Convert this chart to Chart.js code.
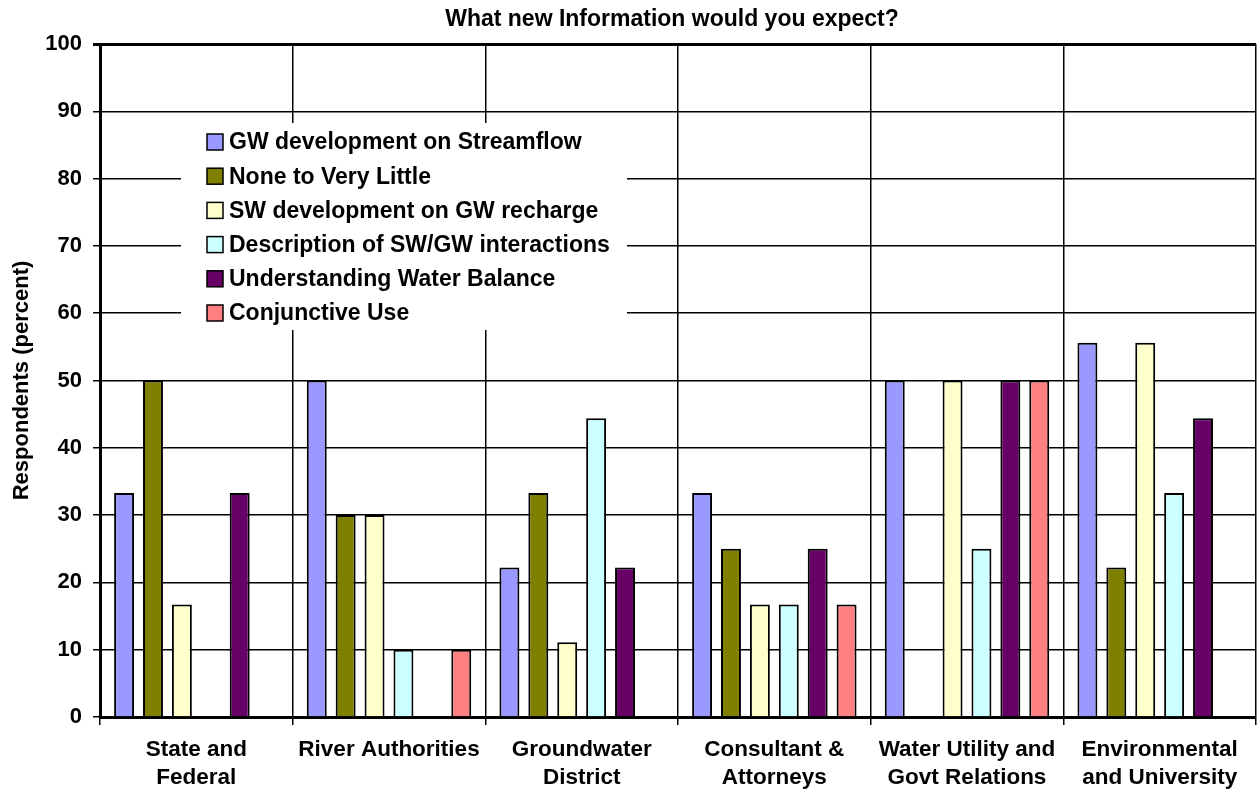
<!DOCTYPE html>
<html>
<head>
<meta charset="utf-8">
<title>What new Information would you expect?</title>
<script src="https://cdn.jsdelivr.net/npm/chart.js@4/dist/chart.umd.min.js"></script>
<style>
    html, body { margin: 0; padding: 0; background: #fff; overflow: hidden; }
    #chart { display: block; }
</style>
</head>
<body>
<canvas id="chart" width="1257" height="795"></canvas>
<script>
// ========================================
// DADOS
// ========================================

const chartTitle = 'What new Information would you expect?';

const categories = [
    ['State and', 'Federal'],
    ['River Authorities'],
    ['Groundwater', 'District'],
    ['Consultant &', 'Attorneys'],
    ['Water Utility and', 'Govt Relations'],
    ['Environmental', 'and University']
];

const seriesNames = [
    'GW development on Streamflow',
    'None to Very Little',
    'SW development on GW recharge',
    'Description of SW/GW interactions',
    'Understanding Water Balance',
    'Conjunctive Use'
];

const gwStreamflow   = [33.3, 50, 22.2, 33.3, 50, 55.6];
const noneLittle     = [50, 30, 33.3, 25, 0, 22.2];
const swRecharge     = [16.7, 30, 11.1, 16.7, 50, 55.6];
const swGwDesc       = [0, 10, 44.4, 16.7, 25, 33.3];
const waterBalance   = [33.3, 0, 22.2, 25, 50, 44.4];
const conjunctiveUse = [0, 10, 0, 16.7, 50, 0];

const yTicks = [0, 10, 20, 30, 40, 50, 60, 70, 80, 90, 100];

const seriesColors = ['#9999ff', '#808000', '#ffffcc', '#ccffff', '#660066', '#ff8080'];

// ========================================
// CONFIG
// ========================================

const FONT = '"Liberation Sans", Arial, sans-serif';
Chart.defaults.font.family = FONT;
Chart.defaults.color = '#000';

const seriesValues = [gwStreamflow, noneLittle, swRecharge, swGwDesc, waterBalance, conjunctiveUse];

const datasets = seriesNames.map((name, i) => ({
    label: name,
    data: seriesValues[i],
    backgroundColor: seriesColors[i],
    borderColor: '#000',
    borderWidth: 2,
    categoryPercentage: 0.9,
    barPercentage: 0.69
}));

// Titulo no topo
const titlePlugin = {
    id: 'topTitle',
    afterDraw(chart) {
        const ctx = chart.ctx;
        ctx.save();
        ctx.font = 'bold 23px ' + FONT;
        ctx.fillStyle = '#000';
        ctx.textAlign = 'center';
        ctx.textBaseline = 'middle';
        ctx.fillText(chartTitle, 672, 20);
        ctx.restore();
    }
};

// Legenda dentro da area do grafico, com fundo branco
const boxLegendPlugin = {
    id: 'boxLegend',
    afterDatasetsDraw(chart) {
        const ctx = chart.ctx;
        const box = { x: 181, y: 123, w: 446, h: 207 };
        ctx.save();
        ctx.fillStyle = '#fff';
        ctx.fillRect(box.x, box.y, box.w, box.h);
        ctx.font = 'bold 23px ' + FONT;
        ctx.textBaseline = 'middle';
        chart.data.datasets.forEach((ds, i) => {
            const cy = 142 + i * 34.2;
            ctx.fillStyle = ds.backgroundColor;
            ctx.fillRect(207, cy - 8, 16, 16);
            ctx.strokeStyle = '#000';
            ctx.lineWidth = 1.5;
            ctx.strokeRect(207, cy - 8, 16, 16);
            ctx.fillStyle = '#000';
            ctx.fillText(ds.label, 229, cy + 1);
        });
        ctx.restore();
    }
};

const chart = new Chart(document.getElementById('chart'), {
    type: 'bar',
    data: {
        labels: categories,
        datasets: datasets
    },
    options: {
        responsive: false,
        animation: false,
        layout: {
            padding: { top: 44, right: 1, left: 0, bottom: 0 }
        },
        plugins: {
            legend: { display: false },
            tooltip: { enabled: false }
        },
        scales: {
            x: {
                grid: {
                    offset: true,
                    color: '#000',
                    lineWidth: 1.5,
                    tickLength: 8
                },
                border: { display: true, color: '#000', width: 3 },
                ticks: {
                    font: { size: 22.5, weight: 'bold', lineHeight: 1.24 },
                    color: '#000',
                    padding: 11,
                    maxRotation: 0,
                    autoSkip: false
                },
                afterFit: (scale) => { scale.height = 78; }
            },
            y: {
                min: 0,
                max: 100,
                afterBuildTicks: (scale) => {
                    scale.ticks = yTicks.map(v => ({ value: v }));
                },
                grid: {
                    color: '#000',
                    lineWidth: (ctx) => (ctx.tick && ctx.tick.value === 100 ? 3 : 1.5),
                    tickLength: 7
                },
                border: { display: true, color: '#000', width: 3 },
                ticks: {
                    font: { size: 22, weight: 'bold' },
                    color: '#000',
                    padding: 11
                },
                title: {
                    display: true,
                    text: 'Respondents (percent)',
                    font: { size: 22, weight: 'bold' },
                    color: '#000',
                    padding: { top: 9, bottom: 0 }
                },
                afterFit: (scale) => { scale.width = 100; }
            }
        }
    },
    plugins: [titlePlugin, boxLegendPlugin]
});
</script>
</body>
</html>
